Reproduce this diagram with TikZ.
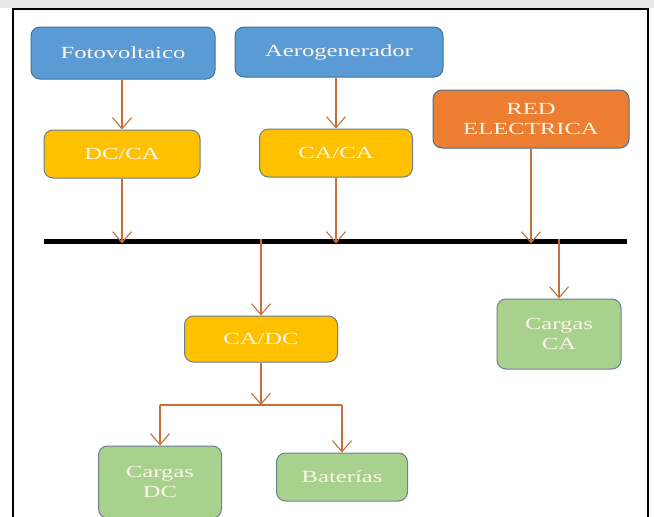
\documentclass[tikz,border=0pt]{standalone}
\usepackage{fontspec}
\newfontfamily\boxfont[FakeStretch=1.45]{Liberation Serif}
\usetikzlibrary{arrows.meta}
\definecolor{bandgray}{HTML}{E7E8EA}
\definecolor{boxblue}{HTML}{5B9BD5}
\definecolor{boxyellow}{HTML}{FFC000}
\definecolor{boxorange}{HTML}{ED7D31}
\definecolor{boxgreen}{HTML}{A9D18E}
\definecolor{edgeblue}{HTML}{41719C}
\definecolor{edgegray}{HTML}{6B7F91}
\definecolor{arrowbrown}{HTML}{C5703A}
\definecolor{txtcream}{HTML}{FDF6E8}
\tikzset{
  blk/.style={draw=edgegray, line width=1pt, rounded corners=9pt, text=txtcream,
    font=\boxfont\fontsize{17}{20}\selectfont, align=center, inner sep=0pt},
  bluebox/.style={blk, fill=boxblue, draw=edgeblue},
  yellowbox/.style={blk, fill=boxyellow},
  orangebox/.style={blk, fill=boxorange, draw=edgeblue},
  greenbox/.style={blk, fill=boxgreen},
  arr/.style={draw=arrowbrown, line width=1.1pt, -{Straight Barb[length=11pt,width=19pt,line width=1.1pt]}},
  ln/.style={draw=arrowbrown, line width=1.1pt},
  bus/.style={draw=black, line width=5pt}
}
\begin{document}
\begin{tikzpicture}[x=1pt,y=-1pt]
\useasboundingbox (0,0) rectangle (654,517);
\fill[white] (0,0) rectangle (654,517);
\fill[bandgray] (0,0) rectangle (654,8);
\draw[black, line width=1.4pt] (13,530) -- (13,9) -- (648,9) -- (648,530);

\node[bluebox, minimum width=184pt, minimum height=52pt] (foto) at (123,53) {Fotovoltaico};
\node[bluebox, minimum width=208pt, minimum height=50pt] (aero) at (339,52) {Aerogenerador};
\node[yellowbox, minimum width=156pt, minimum height=48pt] (dcca) at (122,154) {DC/CA};
\node[yellowbox, minimum width=153pt, minimum height=48pt] (caca) at (336,153) {CA/CA};
\node[orangebox, minimum width=196pt, minimum height=58pt] (red) at (531,119) {RED\\ELECTRICA};
\node[yellowbox, minimum width=153pt, minimum height=46pt] (cadc) at (261,339) {CA/DC};
\node[greenbox, minimum width=124pt, minimum height=70pt] (cargasca) at (559,334) {Cargas\\CA};
\node[greenbox, minimum width=123pt, minimum height=72pt] (cargasdc) at (160,482) {Cargas\\DC};
\node[greenbox, minimum width=131pt, minimum height=48pt] (bat) at (342,477) {Baterías};

\coordinate (busL) at (44,241);
\coordinate (busR) at (627,241);
\draw[bus] (busL) -- (busR);

\draw[arr] (foto.south -| dcca.north) -- (dcca.north);
\draw[arr] (aero.south -| caca.north) -- (caca.north);
\draw[arr] (dcca.south) -- ([yshift=-2.5pt]dcca.south |- busL);
\draw[arr] (caca.south) -- ([yshift=-2.5pt]caca.south |- busL);
\draw[arr] (red.south) -- ([yshift=-2.5pt]red.south |- busL);
\draw[arr] ([yshift=2.5pt]cadc.north |- busL) -- (cadc.north);
\draw[arr] ([yshift=2.5pt]cargasca.north |- busL) -- (cargasca.north);

\coordinate (br) at (261,405);
\draw[arr] (cadc.south) -- (br);
\draw[ln] (cargasdc.north |- br) -- (bat.north |- br);
\draw[arr] (cargasdc.north |- br) -- (cargasdc.north);
\draw[arr] (bat.north |- br) -- (bat.north);
\end{tikzpicture}
\end{document}
